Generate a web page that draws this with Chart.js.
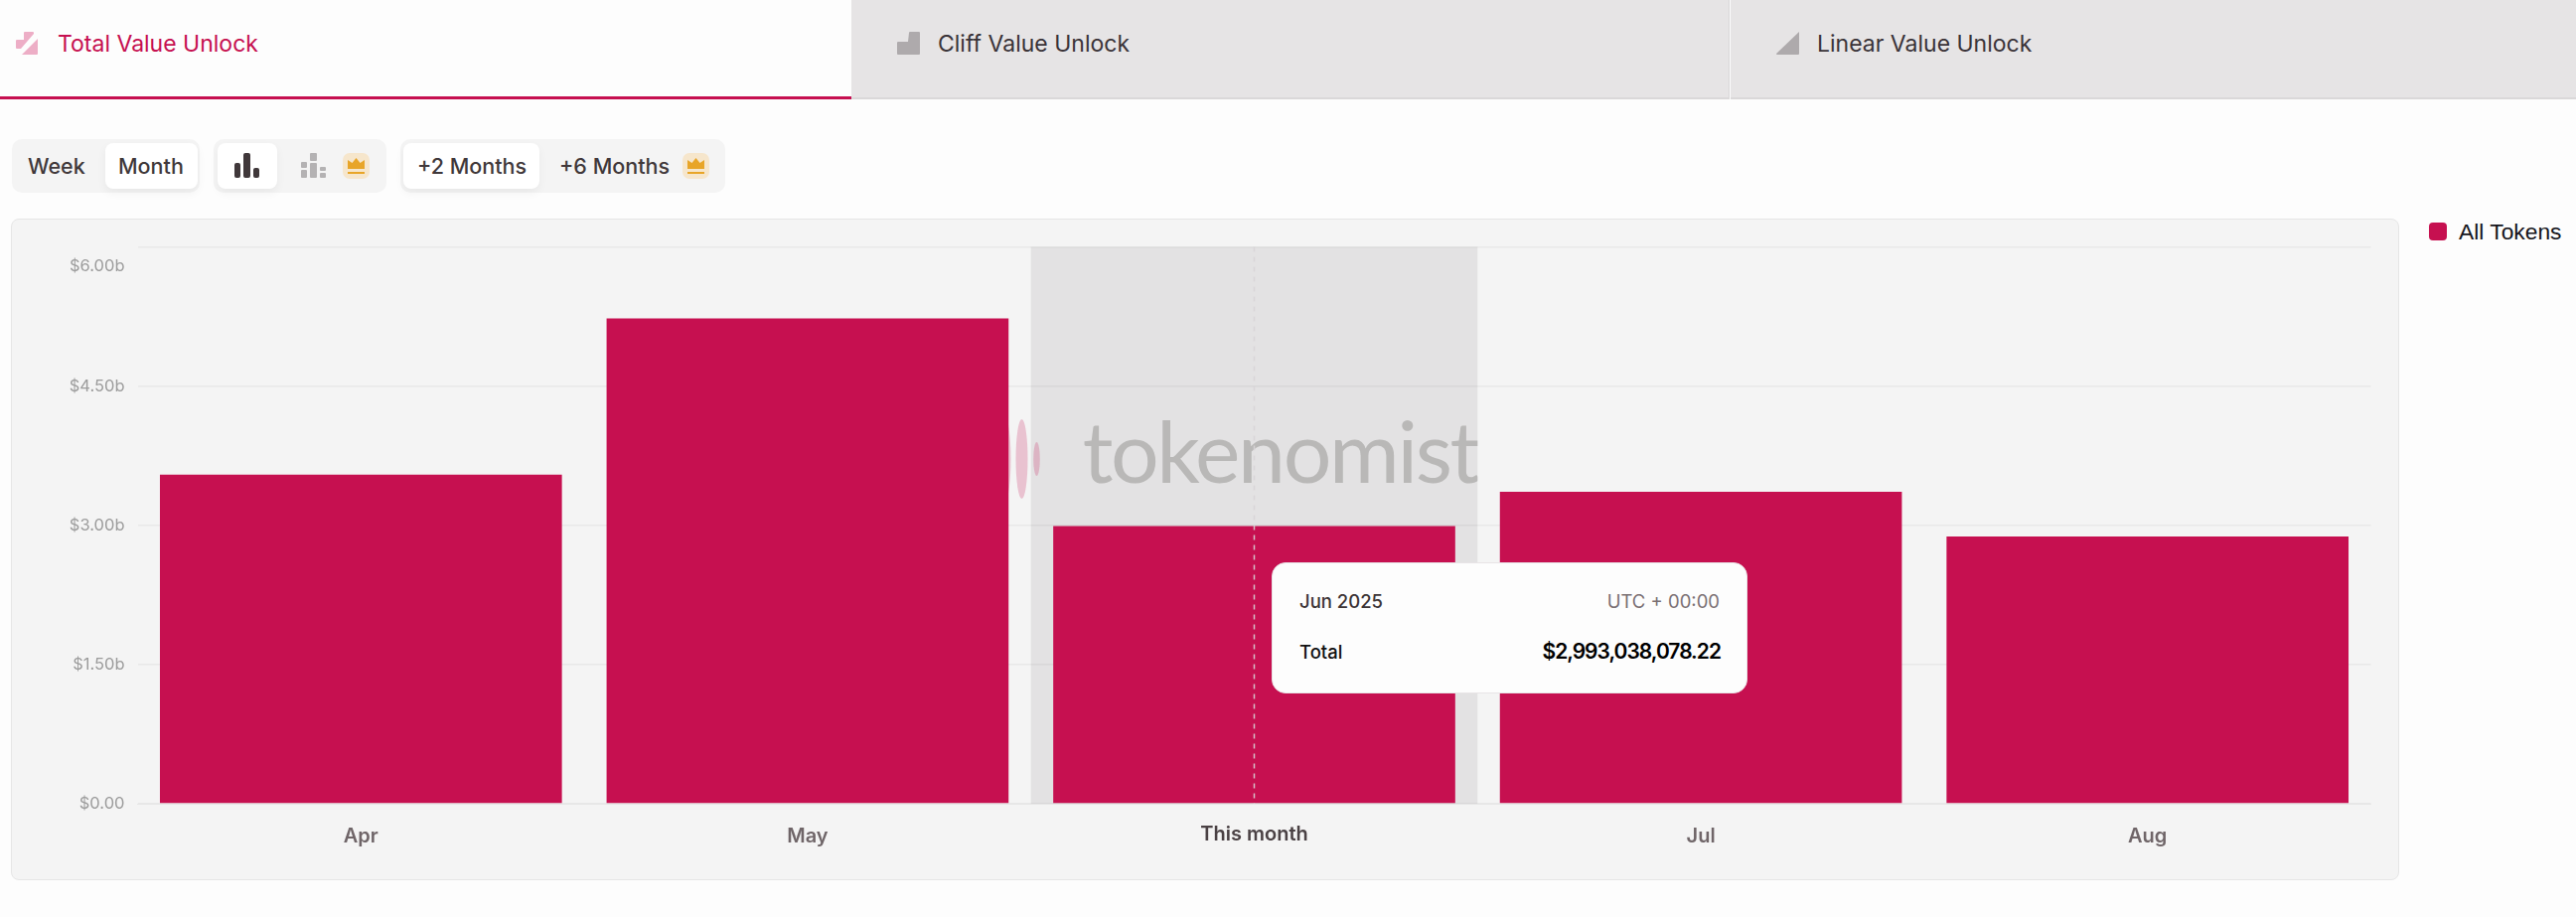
<!DOCTYPE html>
<html>
<head>
<meta charset="utf-8">
<title>Total Value Unlock</title>
<script src="https://cdn.jsdelivr.net/npm/chart.js@4"></script>
<style>
    * { box-sizing: border-box; }
    html, body { margin: 0; padding: 0; width: 2593px; height: 923px; overflow: hidden; background: #fdfdfd; font-family: Inter, sans-serif; }
    .abs { position: absolute; }
    .tab { position: absolute; top: 0; height: 100px; }
    .tab-off { background: #e6e4e5; border-bottom: 2px solid #dad8d9; }
    .tab-text { position: absolute; top: 30px; line-height: 28px; font-size: 23px; white-space: nowrap; color: #3a3338; }
    .group { position: absolute; top: 140px; height: 54px; background: #f4f4f4; border-radius: 10px; }
    .chip { position: absolute; top: 144px; height: 46px; background: #fff; border-radius: 8px; box-shadow: 0 4px 10px rgba(0,0,0,.05); }
    .btn { position: absolute; top: 153px; line-height: 28px; font-size: 21.5px; font-weight: 500; white-space: nowrap; color: #40383a; }
    .crown { position: absolute; top: 154px; width: 27px; height: 26px; background: #f6e6cc; border-radius: 7px; }
    .card { position: absolute; left: 11px; top: 220px; width: 2404px; height: 666px; background: #f4f4f4; border: 1px solid #e6e6e6; border-radius: 8px; }
    #chart { position: absolute; left: 11px; top: 220px; }
    .tooltip { position: absolute; left: 1280px; top: 566px; width: 479px; height: 132px; background: #fdfdfd; border-radius: 14px; border: 1px solid #e8e4e6; }
    .tt { position: absolute; white-space: nowrap; line-height: 24px; }
    .legend-box { position: absolute; left: 2445px; top: 224px; width: 18px; height: 18px; border-radius: 4px; background: #c61050; }
    .legend-text { position: absolute; left: 2475px; top: 219px; line-height: 28px; font-family: "Liberation Sans", Arial, sans-serif; font-size: 22.8px; color: #15151b; white-space: nowrap; }
</style>
</head>
<body>

<div class="tab-off tab" style="left:857px;width:884px;border-right:1px solid #d8d6d7"></div>
<div class="tab-off tab" style="left:1742px;width:851px"></div>
<div class="abs" style="left:0;top:97px;width:857px;height:3px;background:#c61050"></div>

<svg class="abs" style="left:16px;top:32px" width="23" height="23" viewBox="0 0 23 23">
    <path d="M8 1q0 -1 1 -1h8q1 0 1 1v1l-13 15h-4q-1 0 -1 -1v-7q0 -1 1 -1h7z M22 7v15q0 1 -1 1h-15z" fill="#edaec6"/>
</svg>
<div class="tab-text" style="left:58px;color:#c61050">Total Value Unlock</div>
<svg class="abs" style="left:903px;top:32px" width="23" height="23" viewBox="0 0 23 23">
    <path d="M12 1q0 -1 1 -1h9q1 0 1 1v21q0 1 -1 1h-21q-1 0 -1 -1v-11q0 -1 1 -1h10z" fill="#aeaaac"/>
</svg>
<div class="tab-text" style="left:944px">Cliff Value Unlock</div>
<svg class="abs" style="left:1788px;top:32px" width="23" height="23" viewBox="0 0 23 23">
    <path d="M23 0v22q0 1 -1 1h-21q-1 0 -1 -1z" fill="#aeaaac"/>
</svg>
<div class="tab-text" style="left:1829px">Linear Value Unlock</div>

<div class="group" style="left:12px;width:189px"></div>
<div class="chip" style="left:106px;width:93px"></div>
<div class="btn" style="left:28px">Week</div>
<div class="btn" style="left:119px">Month</div>

<div class="group" style="left:215px;width:174px"></div>
<div class="chip" style="left:219px;width:60px"></div>
<svg class="abs" style="left:236px;top:154px" width="25" height="25" viewBox="0 0 25 25">
    <rect x="0" y="10" width="6" height="15" rx="2" fill="#40383a"/>
    <rect x="9" y="0" width="7" height="25" rx="2" fill="#40383a"/>
    <rect x="19" y="15" width="6" height="10" rx="2" fill="#40383a"/>
</svg>
<svg class="abs" style="left:303px;top:154px" width="25" height="25" viewBox="0 0 25 25">
    <rect x="0" y="9" width="6" height="6" rx="1" fill="#b4b2b3"/>
    <rect x="0" y="17" width="6" height="8" rx="1" fill="#b4b2b3"/>
    <rect x="9" y="0" width="7" height="8" rx="1" fill="#b4b2b3"/>
    <rect x="9" y="10" width="7" height="15" rx="1" fill="#b4b2b3"/>
    <rect x="19" y="14" width="6" height="4" rx="1" fill="#b4b2b3"/>
    <rect x="19" y="20" width="6" height="5" rx="1" fill="#b4b2b3"/>
</svg>
<div class="crown" style="left:345px"><svg width="27" height="26" viewBox="0 0 27 26"><path d="M5 7l4.500 3 4 -5 4 5 4.500 -3v9h-17z M5 19h17v2h-17z" fill="#e8a528"/></svg></div>

<div class="group" style="left:403px;width:327px"></div>
<div class="chip" style="left:406px;width:137px"></div>
<div class="btn" style="left:420px">+2 Months</div>
<div class="btn" style="left:563px">+6 Months</div>
<div class="crown" style="left:687px"><svg width="27" height="26" viewBox="0 0 27 26"><path d="M5 7l4.500 3 4 -5 4 5 4.500 -3v9h-17z M5 19h17v2h-17z" fill="#e8a528"/></svg></div>

<div class="card"></div>
<canvas id="chart" width="2404" height="666"></canvas>

<div class="tooltip"></div>
<div class="tt" style="left:1308px;top:593px;font-size:18.5px;font-weight:500;color:#3c3436">Jun 2025</div>
<div class="tt" style="right:862px;top:593px;font-size:18.5px;color:#7a6f73">UTC + 00:00</div>
<div class="tt" style="left:1308px;top:644px;font-size:18.5px;font-weight:500;color:#111">Total</div>
<div class="tt" style="right:861px;top:644px;font-size:21px;font-weight:600;letter-spacing:-1px;color:#000">$2,993,038,078.22</div>

<div class="legend-box"></div>
<div class="legend-text" id="legend"></div>

<script>
const categories = ['Apr', 'May', 'This month', 'Jul', 'Aug'];
const unlockValues = [3.547e9, 5.228e9, 2993038078.22, 3.362e9, 2.88e9];
const yTickLabels = ['$0.00', '$1.50b', '$3.00b', '$4.50b', '$6.00b'];
const seriesName = 'All Tokens';
const currentIndex = 2;

const app = {};

app.barColor = '#c61050';

// Grey band behind the current month, with the watermark on top of it
app.bandPlugin = {
    id: 'band',
    beforeDatasetsDraw(chart) {
        const ctx = chart.ctx;
        const area = chart.chartArea;
        const x = chart.scales.x;
        const centre = x.getPixelForTick(currentIndex);
        const half = (x.getPixelForTick(1) - x.getPixelForTick(0)) / 2;

        ctx.save();
        ctx.fillStyle = 'rgba(100, 85, 95, 0.115)';
        ctx.fillRect(centre - half, area.top, half * 2, area.height);

        // pink logo marks
        ctx.fillStyle = 'rgba(198, 16, 80, 0.22)';
        ctx.beginPath();
        ctx.ellipse(centre - 234, 242, 6, 40, 0, 0, Math.PI * 2);
        ctx.fill();
        ctx.beginPath();
        ctx.ellipse(centre - 219, 242, 3.3, 17, 0, 0, Math.PI * 2);
        ctx.fill();
        ctx.beginPath();
        ctx.ellipse(centre - 254, 242, 9, 50, 0, 0, Math.PI * 2);
        ctx.fill();

        // watermark text stops at the band edge
        ctx.beginPath();
        ctx.rect(centre - half - 60, area.top, half * 2 + 60, area.height);
        ctx.clip();
        ctx.fillStyle = '#b9b8b7';
        ctx.font = '86px Lato';
        ctx.letterSpacing = '-2.4px';
        ctx.textAlign = 'left';
        ctx.textBaseline = 'alphabetic';
        ctx.fillText('tokenomist', centre - half + 52, 265.5);
        ctx.restore();
    },
    afterDatasetsDraw(chart) {
        const ctx = chart.ctx;
        const area = chart.chartArea;
        const centre = chart.scales.x.getPixelForTick(currentIndex);

        ctx.save();
        ctx.strokeStyle = 'rgba(215, 212, 214, 0.9)';
        ctx.lineWidth = 1.5;
        ctx.setLineDash([5, 5]);
        ctx.beginPath();
        ctx.moveTo(centre, area.top);
        ctx.lineTo(centre, area.bottom);
        ctx.stroke();
        ctx.restore();
    }
};

app.drawChart = () => {
    const config = {
        type: 'bar',
        data: {
            labels: categories,
            datasets: [{
                label: seriesName,
                data: unlockValues,
                backgroundColor: app.barColor,
                barPercentage: 0.9,
                categoryPercentage: 1
            }]
        },
        options: {
            responsive: false,
            animation: false,
            devicePixelRatio: 1,
            layout: { padding: { top: 28.5, right: 28.5, bottom: 0, left: 0 } },
            plugins: {
                legend: { display: false },
                tooltip: { enabled: false }
            },
            scales: {
                x: {
                    afterFit: (scale) => { scale.height = 77; },
                    grid: { display: false },
                    border: { color: '#e6e6e6', width: 1 },
                    ticks: {
                        padding: 13,
                        maxRotation: 0,
                        autoSkip: false,
                        color: (c) => c.index === currentIndex ? '#4a4144' : '#6f6568',
                        // smaller line height lifts the current month label a little
                        font: (c) => ({
                            family: 'Inter',
                            size: 20,
                            weight: 600,
                            lineHeight: c.index === currentIndex ? '20px' : '24px'
                        })
                    }
                },
                y: {
                    min: 0,
                    max: 6e9,
                    // the two-row top label would otherwise push the plot area down
                    afterFit: (scale) => {
                        scale.width = 127.5;
                        scale.paddingTop = 0;
                        scale.paddingBottom = 0;
                    },
                    grid: { color: '#e8e8e8', lineWidth: 1.5, drawTicks: false },
                    border: { display: false },
                    ticks: {
                        stepSize: 1.5e9,
                        padding: 13,
                        color: '#9c9c9c',
                        // top label sits below its line, so it gets an empty first row
                        callback: (value, i) => i === yTickLabels.length - 1 ? ['', yTickLabels[i]] : yTickLabels[i],
                        font: (c) => ({
                            family: 'Inter',
                            size: 16.5,
                            lineHeight: c.index === yTickLabels.length - 1 ? '40px' : '20px'
                        })
                    }
                }
            }
        },
        plugins: [app.bandPlugin]
    };

    document.getElementById('legend').textContent = seriesName;
    app.chart = new Chart(document.getElementById('chart'), config);
};

app.drawChart();
</script>
</body>
</html>
